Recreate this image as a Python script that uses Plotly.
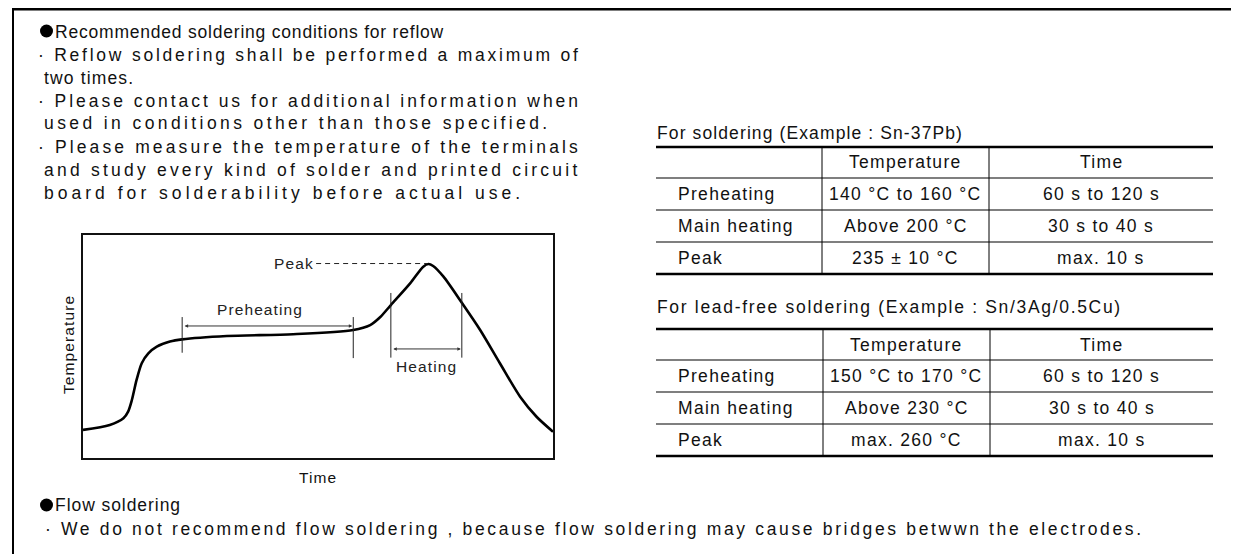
import plotly.graph_objects as go

W, H = 1239, 554
OFF = 8  # page body margin of the browser
FONT = "Liberation Sans, Arial, sans-serif"

# ---------------- data ----------------
profile_time = [0, 5.7, 8.6, 9.6, 10.4, 11.4, 12.5, 13.9, 15.7, 18.5, 21.1, 30.6, 44.7,
                57.5, 61.1, 63.2, 65.5, 69.6, 72.4, 73.5, 74.5, 76.7, 80.6, 84.5, 88.7,
                93.0, 96.5, 100]
profile_temp = [12.6, 14.8, 17.8, 20.8, 26.0, 35.0, 42.5, 46.9, 49.9, 52.2, 53.2, 54.7, 55.5,
                57.4, 59.6, 63.1, 68.6, 78.3, 85.8, 87.0, 86.1, 81.3, 69.6, 57.4, 42.5,
                27.5, 18.5, 11.8]

heading_reflow = "Recommended soldering conditions for reflow"
reflow_lines = [
    "· Reflow soldering shall be performed a maximum of",
    "two times.",
    "· Please contact us for additional information when",
    "used in conditions other than those specified.",
    "· Please measure the temperature of the terminals",
    "and study every kind of solder and printed circuit",
    "board for solderability before actual use.",
]
heading_flow = "Flow soldering"
flow_line = "· We do not recommend flow soldering , because flow soldering may cause bridges betwwn the electrodes."

table_header = ["", "Temperature", "Time"]
snpb_title = "For soldering (Example : Sn-37Pb)"
snpb_rows = [["Preheating", "140 °C to 160 °C", "60 s to 120 s"],
             ["Main heating", "Above 200 °C", "30 s to 40 s"],
             ["Peak", "235 ± 10 °C", "max. 10 s"]]
leadfree_title = "For lead-free soldering (Example : Sn/3Ag/0.5Cu)"
leadfree_rows = [["Preheating", "150 °C to 170 °C", "60 s to 120 s"],
                 ["Main heating", "Above 230 °C", "30 s to 40 s"],
                 ["Peak", "max. 260 °C", "max. 10 s"]]

# ---------------- text metrics (Helvetica/Arial advance widths) ----------------
_AW = {' ': 278, '!': 278, '(': 333, ')': 333, ',': 278, '-': 333, '.': 278, '/': 278, ':': 278,
       'A': 667, 'B': 667, 'C': 722, 'D': 722, 'E': 667, 'F': 611, 'G': 778, 'H': 722, 'I': 278,
       'J': 500, 'K': 667, 'L': 556, 'M': 833, 'N': 722, 'O': 778, 'P': 667, 'Q': 778, 'R': 722,
       'S': 667, 'T': 611, 'U': 722, 'V': 667, 'W': 944, 'X': 667, 'Y': 667, 'Z': 611,
       'a': 556, 'b': 556, 'c': 500, 'd': 556, 'e': 556, 'f': 278, 'g': 556, 'h': 556, 'i': 222,
       'j': 222, 'k': 500, 'l': 222, 'm': 833, 'n': 556, 'o': 556, 'p': 556, 'q': 556, 'r': 333,
       's': 500, 't': 278, 'u': 556, 'v': 500, 'w': 722, 'x': 500, 'y': 500, 'z': 500,
       '°': 400, '±': 584, '·': 278}


def natural_width(s, size):
    return sum(_AW.get(c, 556) for c in s) * size / 1000.0


def spaced(s, ls):
    if abs(ls) < 0.05:
        return s
    return '<span style="letter-spacing:%.2fpx">%s</span>' % (ls, s)


# ---------------- helpers ----------------
def px(x):
    return (x - OFF) / W


def py(y):
    return 1 - (y - OFF) / H


shapes = []
annotations = []


def line(x0, y0, x1, y1, width=1.0, color="black", dash=None):
    d = dict(type="line", xref="paper", yref="paper", x0=px(x0), y0=py(y0), x1=px(x1), y1=py(y1),
             line=dict(color=color, width=width))
    if dash:
        d["line"]["dash"] = dash
    shapes.append(d)


def text(x, y, s, size=17.5, anchor="left", color="#111", angle=0, x_end=None, ls=0.0):
    if x_end is not None and len(s) > 1:
        ls = (x_end - x - natural_width(s, size)) / (len(s) - 1)
    annotations.append(dict(x=px(x), y=py(y), xref="paper", yref="paper", text=spaced(s, ls),
                            showarrow=False, xanchor=anchor, yanchor="middle", textangle=angle,
                            borderpad=0, borderwidth=0,
                            font=dict(family=FONT, size=size, color=color)))


def bullet(cx, cy, r=6.5):
    shapes.append(dict(type="circle", xref="paper", yref="paper", x0=px(cx - r), x1=px(cx + r),
                       y0=py(cy + r), y1=py(cy - r), fillcolor="black", line=dict(width=0)))


# ---------------- frame ----------------
line(12, 9, 1239, 9, width=3, color="black")
line(13, 9, 13, H + 10, width=2, color="black")
line(1238, 9, 1238, H + 10, width=1.5, color="#888")

# ---------------- left text ----------------
BODY = 17.5
bullet(46.5, 31)
text(55, 31.5, heading_reflow, BODY, x_end=443)
ys = [55, 78, 100.5, 123.5, 147, 170, 192.5]
ends = [577, 133, 577, 547, 577, 577, 520]
for s, yy, xe in zip(reflow_lines, ys, ends):
    x0 = 38 if s.startswith("·") else 44
    text(x0, yy, s, BODY, x_end=xe)

bullet(46.5, 505)
text(55, 505, heading_flow, BODY, x_end=180)
text(45, 529, flow_line, BODY, x_end=1140)

# ---------------- tables ----------------
TX0, TX1 = 656, 1213
CELL_LS = 1.3


def draw_table(title, title_y, title_end, top, rows, col1, col2):
    text(TX0 + 1, title_y, title, BODY, x_end=title_end)
    row_h = [top, top + 31, top + 63, top + 95, top + 127]
    line(TX0, row_h[0], TX1, row_h[0], width=2.5)
    line(TX0, row_h[-1], TX1, row_h[-1], width=2.5)
    for yy in row_h[1:-1]:
        line(TX0, yy, TX1, yy, width=1.2)
    line(col1, row_h[0], col1, row_h[-1], width=1)
    line(col2, row_h[0], col2, row_h[-1], width=1)
    cx1 = (col1 + col2) / 2
    cx2 = (col2 + TX1) / 2
    hy = (row_h[0] + row_h[1]) / 2
    text(cx1, hy, table_header[1], BODY, "center", ls=CELL_LS)
    text(cx2, hy, table_header[2], BODY, "center", ls=CELL_LS)
    for i, r in enumerate(rows):
        yy = (row_h[i + 1] + row_h[i + 2]) / 2
        text(678, yy, r[0], BODY, ls=CELL_LS)
        text(cx1, yy, r[1], BODY, "center", ls=CELL_LS)
        text(cx2, yy, r[2], BODY, "center", ls=CELL_LS)


draw_table(snpb_title, 133, 962, 147, snpb_rows, 822, 989)
draw_table(leadfree_title, 307, 1120, 329, leadfree_rows, 823, 990)

# ---------------- chart ----------------
CX0, CX1, CY0, CY1 = 83, 553, 235, 458
LBL = 15.5
LBL_LS = 1.1

fig = go.Figure()
fig.add_trace(go.Scatter(x=profile_time, y=profile_temp, mode="lines",
                         line=dict(color="black", width=2.6, shape="spline", smoothing=0.8),
                         hoverinfo="skip", showlegend=False))


def dline(t0, T0, t1, T1, width=1, color="#222", dash=None):
    d = dict(type="line", xref="x", yref="y", x0=t0, y0=T0, x1=t1, y1=T1,
             line=dict(color=color, width=width))
    if dash:
        d["line"]["dash"] = dash
    shapes.append(d)


def darrow(t0, t1, T):
    annotations.append(dict(x=t1, y=T, ax=t0, ay=T, xref="x", yref="y", axref="x", ayref="y",
                            text="", showarrow=True, arrowhead=2, arrowside="end+start",
                            arrowsize=0.7, arrowwidth=1, arrowcolor="#333"))


def dtext(t, T, s, anchor="center"):
    annotations.append(dict(x=t, y=T, xref="x", yref="y", text=spaced(s, LBL_LS), showarrow=False,
                            xanchor=anchor, borderpad=0, borderwidth=0,
                            font=dict(family=FONT, size=LBL, color="#222")))


# preheating markers
dline(21.1, 47.2, 21.1, 63.2)
dline(57.5, 44.8, 57.5, 63.2)
darrow(21.3, 57.3, 59.2)
dtext(37.7, 66.4, "Preheating")
# heating markers
dline(65.5, 45, 65.5, 74)
dline(80.6, 45, 80.6, 74)
darrow(65.7, 80.4, 48.9)
dtext(73.1, 40.9, "Heating")
# peak
dline(49.6, 87.2, 73.3, 87.2, width=1, color="#222", dash="5px,4px")
dtext(49.2, 87.2, "Peak", anchor="right")

text(68, 345, "Temperature", LBL, "center", angle=-90, ls=LBL_LS)
text(318, 477, "Time", LBL, "center", ls=LBL_LS)

fig.update_layout(
    width=W, height=H, margin=dict(l=0, r=0, t=0, b=0),
    paper_bgcolor="white", plot_bgcolor="white",
    xaxis=dict(domain=[px(CX0), px(CX1)], range=[0, 100], showgrid=False, zeroline=False,
               showticklabels=False, ticks="", showline=True, mirror=True, linecolor="#111",
               linewidth=1.5, fixedrange=True),
    yaxis=dict(domain=[py(CY1), py(CY0)], range=[0, 100], showgrid=False, zeroline=False,
               showticklabels=False, ticks="", showline=True, mirror=True, linecolor="#111",
               linewidth=1.5, fixedrange=True),
    shapes=shapes, annotations=annotations, showlegend=False,
)

fig.write_html("out.html")
